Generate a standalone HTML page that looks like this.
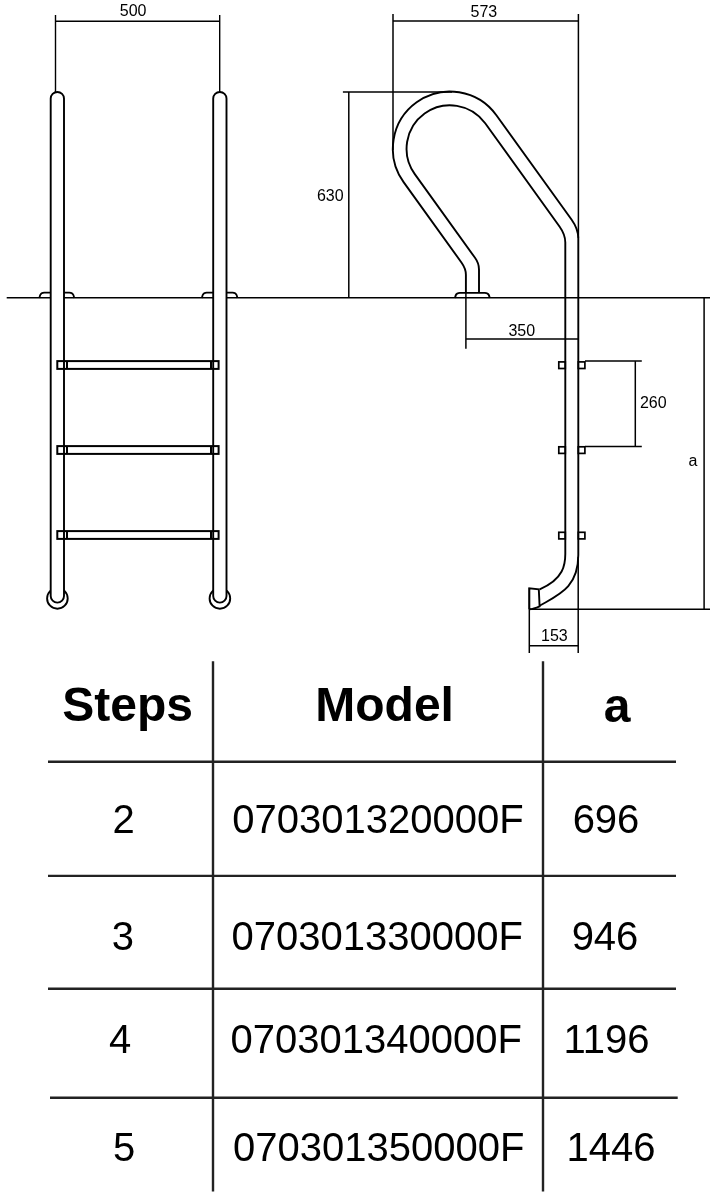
<!DOCTYPE html>
<html><head><meta charset="utf-8">
<style>
html,body{margin:0;padding:0;background:#fff;}
body{width:713px;height:1200px;overflow:hidden;position:relative;}
svg{position:absolute;left:0;top:0;will-change:transform;}
text{font-family:"Liberation Sans",sans-serif;}
</style></head>
<body>
<svg width="713" height="1200" viewBox="0 0 713 1200">
<g fill="none" stroke="#000" stroke-linecap="butt">
 <!-- ground line -->
 <line x1="6.7" y1="297.8" x2="710" y2="297.8" stroke-width="1.6"/>
 <!-- dim 500 -->
 <g stroke-width="1.4">
  <line x1="55.5" y1="15" x2="55.5" y2="92"/>
  <line x1="219.7" y1="15" x2="219.7" y2="92"/>
  <line x1="55.5" y1="21.2" x2="219.7" y2="21.2"/>
 </g>
 <!-- flanges left ladder -->
 <g stroke-width="1.8">
  <path d="M39.3,298 L40.2,295 Q41.2,292.6 44.2,292.6 L69.4,292.6 Q72.4,292.6 73.4,295 L74.3,298"/>
  <path d="M201.8,298 L202.7,295 Q203.7,292.6 206.7,292.6 L232.6,292.6 Q235.6,292.6 236.6,295 L237.5,298"/>
 </g>
 <!-- foot circles -->
 <g stroke-width="1.9" fill="#fff">
  <circle cx="57.4" cy="598.4" r="10.3"/>
  <circle cx="219.9" cy="598.4" r="10.3"/>
 </g>
 <!-- poles -->
 <g stroke-width="1.9" fill="#fff">
  <path d="M50.7,596 L50.7,98.6 A6.65,6.65 0 0,1 64,98.6 L64,596 A6.65,6.65 0 0,1 50.7,596 Z"/>
  <path d="M213.2,596 L213.2,98.6 A6.65,6.65 0 0,1 226.5,98.6 L226.5,596 A6.65,6.65 0 0,1 213.2,596 Z"/>
 </g>
 <!-- rungs -->
 <g stroke-width="2">
  <rect x="57.3" y="361.1" width="161.3" height="7.8"/>
  <rect x="57.3" y="446.1" width="161.3" height="7.8"/>
  <rect x="57.3" y="531.1" width="161.3" height="7.8"/>
  <line x1="67" y1="361" x2="67" y2="369"/>
  <line x1="211" y1="361" x2="211" y2="369"/>
  <line x1="67" y1="446" x2="67" y2="454"/>
  <line x1="211" y1="446" x2="211" y2="454"/>
  <line x1="67" y1="531" x2="67" y2="539"/>
  <line x1="211" y1="531" x2="211" y2="539"/>
 </g>

 <!-- right ladder dims -->
 <g stroke-width="1.5">
  <line x1="393" y1="14" x2="393" y2="150"/>
  <line x1="578.4" y1="14" x2="578.4" y2="238"/>
  <line x1="393" y1="21" x2="578.4" y2="21"/>
  <line x1="348.8" y1="91.9" x2="348.8" y2="298"/>
  <line x1="342.9" y1="91.9" x2="452" y2="91.9"/>
  <line x1="465.9" y1="292" x2="465.9" y2="348.8"/>
  <line x1="465.9" y1="339" x2="578.4" y2="339"/>
  <line x1="585" y1="361.1" x2="641.8" y2="361.1"/>
  <line x1="585" y1="446.6" x2="641.8" y2="446.6"/>
  <line x1="635.3" y1="361.1" x2="635.3" y2="446.6"/>
  <line x1="704.1" y1="298" x2="704.1" y2="609.2"/>
  <line x1="529.3" y1="609.2" x2="710" y2="609.2"/>
  <line x1="529.3" y1="588" x2="529.3" y2="653"/>
  <line x1="578.2" y1="557" x2="578.2" y2="653"/>
  <line x1="529.3" y1="645.8" x2="578.2" y2="645.8"/>
 </g>
 <!-- handrail -->
 <g stroke-width="1.9">
  <path d="M465.9,293 L465.9,274.7 Q465.9,268.7 461.6,262.7 L403.6,182.1 A1,1 0 0,1 496.4,115.3 L571.5,219.5 Q578.3,229 578.3,238.5 L578.3,555"/>
  <path d="M479,293 L479,269.5 Q479,263.3 475,257.8 L414.8,174.1 A1,1 0 0,1 485.2,123.3 L559.5,226.5 Q565.3,234.6 565.3,242.5 L565.3,554"/>
  <!-- flange -->
  <path d="M454.9,298 L455.8,295.2 Q456.8,292.9 459.8,292.9 L484.9,292.9 Q487.9,292.9 488.9,295.2 L489.8,298"/>
  <!-- bottom curve -->
  <path d="M565.3,554 C565.3,564 564,579 539.7,589.3"/>
  <path d="M578.3,555 C578.3,588 558,595 539.5,605.8"/>
  <path d="M529.3,609.2 L529.3,588.2 L538.8,589.3 L539.6,606.3 C536,608 532,609.2 529.3,609.2"/>
  <!-- brackets -->
  <g stroke-width="1.7">
  <rect x="558.8" y="361.9" width="6.5" height="6.6"/>
  <rect x="578.3" y="361.9" width="6.6" height="6.6"/>
  <rect x="558.8" y="446.8" width="6.5" height="6.6"/>
  <rect x="578.3" y="446.8" width="6.6" height="6.6"/>
  <rect x="558.8" y="532.3" width="6.5" height="6.6"/>
  <rect x="578.3" y="532.3" width="6.6" height="6.6"/>
  </g>
 </g>
</g>
<!-- dimension texts -->
<g font-size="16" fill="#000" text-anchor="middle">
 <text x="133.1" y="16.3">500</text>
 <text x="483.9" y="16.6">573</text>
 <text x="330.3" y="201.1">630</text>
 <text x="521.8" y="336">350</text>
 <text x="653.3" y="408">260</text>
 <text x="692.9" y="465.7">a</text>
 <text x="554.4" y="640.6">153</text>
</g>
<!-- table -->
<g stroke="#222" stroke-width="2.4" fill="none">
 <line x1="213" y1="661.3" x2="213" y2="1191.5"/>
 <line x1="543" y1="661.3" x2="543" y2="1191.5"/>
 <line x1="48" y1="761.7" x2="676" y2="761.7"/>
 <line x1="48" y1="875.9" x2="676" y2="875.9"/>
 <line x1="48" y1="988.8" x2="676" y2="988.8"/>
 <line x1="50" y1="1097.8" x2="677.7" y2="1097.8"/>
</g>
<g font-size="48" font-weight="bold" fill="#000" text-anchor="middle">
 <text x="127.7" y="720.7">Steps</text>
 <text x="384.6" y="721.3">Model</text>
 <text x="617" y="721.5">a</text>
</g>
<g font-size="40" fill="#000" text-anchor="middle">
 <text x="123.6" y="833.3">2</text>
 <text x="377.9" y="833.3">070301320000F</text>
 <text x="606" y="833.3">696</text>
 <text x="122.8" y="949.6">3</text>
 <text x="377.2" y="949.6">070301330000F</text>
 <text x="605" y="949.6">946</text>
 <text x="120.1" y="1052.7">4</text>
 <text x="376.3" y="1052.7">070301340000F</text>
 <text x="606.6" y="1052.7">1196</text>
 <text x="124.1" y="1161">5</text>
 <text x="378.7" y="1161">070301350000F</text>
 <text x="611.1" y="1161">1446</text>
</g>
</svg>
</body></html>
